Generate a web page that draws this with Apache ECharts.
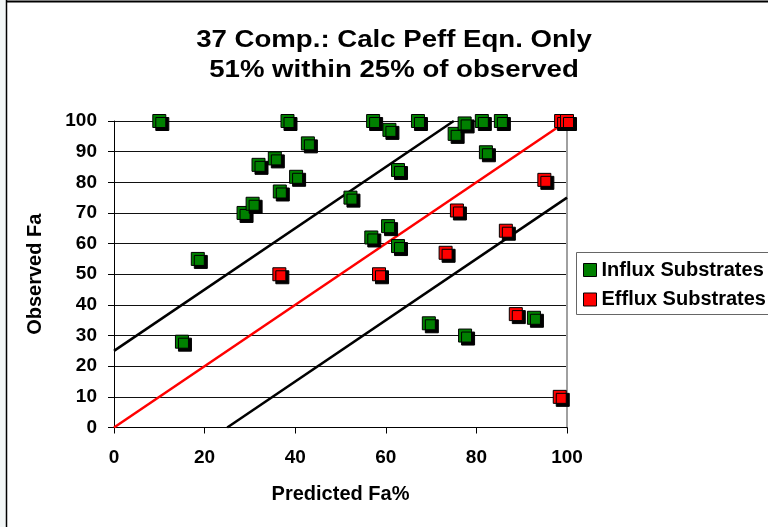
<!DOCTYPE html>
<html>
<head>
<meta charset="utf-8">
<script src="https://cdn.jsdelivr.net/npm/echarts@6/dist/echarts.min.js"></script>
<style>
  html, body { margin: 0; padding: 0; background: #fff; }
  #chart { width: 768px; height: 527px; }
</style>
</head>
<body>
<div id="chart"></div>
<script>
// Predicted vs observed fraction absorbed (Fa %)
const influxPoints = [
  [10, 100], [15, 28], [18.5, 55], [28.6, 70], [30.6, 73], [31.9, 85.7],
  [35.5, 87.8], [36.6, 77], [40.2, 81.8], [42.8, 92.7], [38.3, 100],
  [52.2, 75], [56.8, 62], [57.2, 100], [60.5, 65.7], [60.8, 97.1],
  [62.7, 59.2], [62.7, 84], [67.1, 100], [69.5, 34], [75.2, 95.8],
  [77.4, 99.2], [77.5, 30], [81.2, 100], [82.1, 89.8], [85.4, 100],
  [92.7, 35.8]
];
const effluxPoints = [
  [36.5, 50], [58.5, 50], [73.2, 57], [75.7, 70.8], [86.5, 64.2],
  [88.7, 37], [95, 80.8], [98.7, 100], [100, 100], [98.4, 10]
];
// identity line and +/- 25 % bands
const identityLine = [[0, 0], [100, 100]];
const upperBand = [[0, 25], [75, 100]];
const lowerBand = [[25, 0], [100, 75]];

const titleLines = ['37 Comp.: Calc Peff Eqn. Only', '51% within 25% of observed'];
const xTicks = { min: 0, max: 100, step: 20 };
const yTicks = { min: 0, max: 100, step: 10 };

const FONT = '"Liberation Sans", Arial, sans-serif';
const chart = echarts.init(document.getElementById('chart'), null, { renderer: 'canvas' });

const markerStyle = (color) => ({
  color: color,
  borderColor: '#000',
  borderWidth: 1,
  shadowColor: '#000',
  shadowBlur: 0,
  shadowOffsetX: 3,
  shadowOffsetY: 3,
  opacity: 1
});

// two-line heading, drawn slightly widened
const titleText = (text, y) => ({
  type: 'text',
  x: 394, y: y,
  scaleX: 1.15,
  style: {
    text: text,
    x: 0, y: 0,
    textAlign: 'center',
    textVerticalAlign: 'middle',
    font: 'bold 24px ' + FONT,
    fill: '#000'
  }
});

chart.setOption({
  animation: false,
  backgroundColor: '#fff',
  graphic: [
    { type: 'rect', shape: { x: 0, y: 0, width: 6, height: 527 }, style: { fill: '#f2f6f6' }, z: -1 },
    { type: 'line', shape: { x1: 6.5, y1: 0, x2: 6.5, y2: 527 }, style: { stroke: '#000', lineWidth: 1.5 } },
    { type: 'line', shape: { x1: 6, y1: 1.5, x2: 768, y2: 1.5 }, style: { stroke: '#000', lineWidth: 2 } },
    titleText(titleLines[0], 40.5),
    titleText(titleLines[1], 70.5),
    { type: 'rect', shape: { x: 576.5, y: 252.5, width: 220, height: 62 },
      style: { fill: '#fff', stroke: '#666', lineWidth: 1 }, z: 1 }
  ],
  legend: {
    orient: 'vertical',
    left: 583,
    top: 260,
    itemGap: 9.5,
    itemWidth: 13,
    itemHeight: 13,
    padding: 0,
    z: 5,
    icon: 'rect',
    data: ['Influx Substrates', 'Efflux Substrates'],
    itemStyle: { borderColor: '#000', borderWidth: 1, shadowBlur: 0, shadowOffsetX: 0, shadowOffsetY: 0, shadowColor: 'rgba(0,0,0,0)' },
    textStyle: { fontFamily: FONT, fontWeight: 'bold', fontSize: 20, color: '#000' }
  },
  grid: { left: 114, right: 201, top: 121, bottom: 99.5, containLabel: false },
  xAxis: {
    type: 'value',
    min: xTicks.min, max: xTicks.max, interval: xTicks.step,
    name: 'Predicted Fa%',
    nameLocation: 'middle',
    nameGap: 57,
    nameTextStyle: { fontFamily: FONT, fontWeight: 'bold', fontSize: 20, color: '#000' },
    axisLine: { show: true, onZero: false, lineStyle: { color: '#000', width: 1 } },
    axisTick: { show: true, inside: false, length: 6, lineStyle: { color: '#000' } },
    axisLabel: { margin: 21, fontFamily: FONT, fontWeight: 'bold', fontSize: 19, color: '#000' },
    splitLine: { show: false }
  },
  yAxis: [{
    type: 'value',
    min: yTicks.min, max: yTicks.max, interval: yTicks.step,
    name: 'Observed Fa',
    nameLocation: 'middle',
    nameGap: 69,
    nameRotate: 90,
    nameTextStyle: { fontFamily: FONT, fontWeight: 'bold', fontSize: 20, color: '#000' },
    axisLine: { show: true, onZero: false, lineStyle: { color: '#000', width: 1 } },
    axisTick: { show: true, inside: false, length: 6, lineStyle: { color: '#000' } },
    axisLabel: { margin: 17, fontFamily: FONT, fontWeight: 'bold', fontSize: 19, color: '#000' },
    splitLine: { show: true, lineStyle: { color: '#111', width: 1 } }
  }, {
    type: 'value',
    position: 'right',
    min: yTicks.min, max: yTicks.max, interval: yTicks.step,
    axisLine: { show: true, onZero: false, lineStyle: { color: '#a0a0a0', width: 2 } },
    axisTick: { show: false },
    axisLabel: { show: false },
    splitLine: { show: false }
  }],
  series: [
    {
      type: 'line', data: identityLine, symbol: 'none', silent: true, z: 1,
      lineStyle: { color: '#ff0000', width: 2.5 }
    },
    {
      type: 'line', data: upperBand, symbol: 'none', silent: true, z: 1,
      lineStyle: { color: '#000', width: 2.5 }
    },
    {
      type: 'line', data: lowerBand, symbol: 'none', silent: true, z: 1,
      lineStyle: { color: '#000', width: 2.5 }
    },
    {
      name: 'Influx Substrates', type: 'scatter', data: influxPoints, clip: false, z: 3,
      symbol: 'rect', symbolSize: 13, itemStyle: markerStyle('#008000')
    },
    {
      name: 'Efflux Substrates', type: 'scatter', data: effluxPoints, clip: false, z: 3,
      symbol: 'rect', symbolSize: 13, itemStyle: markerStyle('#ff0000')
    }
  ]
});
</script>
</body>
</html>
